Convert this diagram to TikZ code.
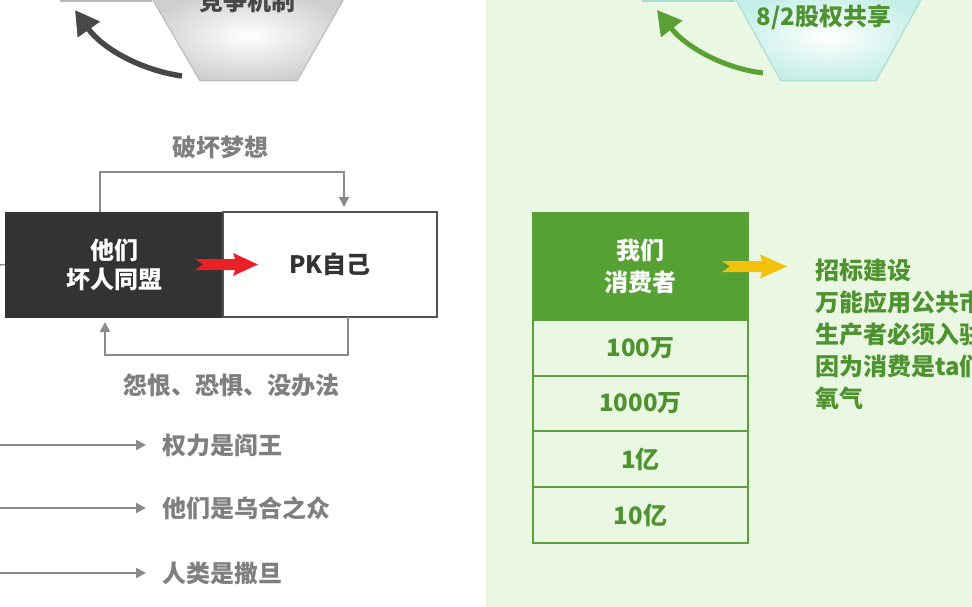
\documentclass[tikz,border=0pt]{standalone}
\usepackage{fontspec}
\setmainfont{Noto Sans CJK SC}
\usetikzlibrary{arrows.meta,calc}
\definecolor{boxdark}{HTML}{333333}
\definecolor{linegray}{HTML}{8A8A8A}
\definecolor{txtgray}{HTML}{7F7F7F}
\definecolor{hexedge}{HTML}{B8B8B8}
\definecolor{hexout}{HTML}{CFCFCF}
\definecolor{curvedark}{HTML}{484848}
\definecolor{gfill}{HTML}{56A133}
\definecolor{gedge}{HTML}{5F9E3F}
\definecolor{gtxt}{HTML}{4E9330}
\definecolor{bggreen}{HTML}{EAF7E2}
\definecolor{tealedge}{HTML}{A6DCD3}
\definecolor{tealout}{HTML}{C4EEE7}
\definecolor{arrowyellow}{HTML}{F4C20D}
\definecolor{arrowred}{HTML}{E82127}
\definecolor{curvegreen}{HTML}{5AA035}
\begin{document}
\begin{tikzpicture}[x=1pt,y=-1pt,
  big/.style={font=\fontsize{24}{30}\selectfont\bfseries},
  lbl/.style={big, text=txtgray, inner sep=1pt},
  fb/.style={draw=linegray, line width=2pt, -{Triangle[length=10pt,width=10pt]}},
  darkbox/.style={big, fill=boxdark, draw=boxdark, text=white, align=center, minimum width=218pt, minimum height=105pt, inner sep=0pt, outer sep=0pt},
  pkbox/.style={big, fill=white, draw=boxdark!85, line width=1.5pt, text=boxdark, minimum width=214pt, minimum height=105pt, inner sep=0pt, outer sep=0pt},
  ghead/.style={font=\fontsize{24}{32}\selectfont\bfseries, fill=gfill, draw=gedge, line width=2pt, text=white, align=center, minimum width=215pt, minimum height=107pt, inner sep=0pt, outer sep=0pt},
  tablerow/.style={big, draw=gedge, line width=2pt, text=gtxt, minimum width=215pt, minimum height=55.7pt, inner sep=0pt, outer sep=0pt, anchor=north},
  gline/.style={big, text=gtxt, inner sep=0pt, anchor=west},
]
\useasboundingbox (0,0) rectangle (972,607);
\clip (0,0) rectangle (972,607);
% backgrounds
\fill[white] (0,0) rectangle (486,607);
\fill[bggreen] (486,0) rectangle (972,607);

% ---------- left panel ----------
\draw[hexedge, line width=1.5pt] (60,1) -- (152,1);
\path[draw=hexedge, line width=1pt, inner color=white, outer color=hexout]
  (147,-10) -- (200,81) -- (297,81) -- (349,-10) -- cycle;
\node[big, text=curvedark] (compete) at (247,1) {竞争机制};
\coordinate (dcs) at (182,76);
\coordinate (dce) at (75,10);
\draw[curvedark, line width=5.5pt, -{Triangle[length=24pt,width=26pt]}]
  (dcs) .. controls (140,70) and (102,48) .. (dce);

\node[darkbox] (them) at (114,264.5) {他们\\[-1pt]坏人同盟};
\node[pkbox] (pk) at (330,264.5) {PK自己};
\coordinate (stub) at (-2,265);
\draw[linegray, line width=1.5pt] (stub) -- (them.west);
\fill[arrowred, shift={(them.east)}]
  (-28,-5.5) -- (12,-5.5) -- (10,-11.5) -- (35,0) -- (10,11.5) -- (12,5.5) -- (-28,5.5) -- (-20,0) -- cycle;

\node[lbl] (destroy) at (220,147) {破坏梦想};
\draw[fb, shorten >=5pt] ([xshift=-14pt]them.north) -- ++(0,-40) -| ([xshift=14pt]pk.north);
\node[lbl] (resent) at (231,385) {怨恨、恐惧、没办法};
\draw[fb, shorten >=5pt] ([xshift=18pt]pk.south) -- ++(0,38) -| ([xshift=-9pt]them.south);

\coordinate (s1) at (-2,445);
\coordinate (s2) at (-2,508);
\coordinate (s3) at (-2,573);
\node[lbl, anchor=west] (t1) at (161,445) {权力是阎王};
\node[lbl, anchor=west] (t2) at (161,508) {他们是乌合之众};
\node[lbl, anchor=west] (t3) at (161,573) {人类是撒旦};
\draw[fb, shorten >=15pt] (s1) -- (t1.west);
\draw[fb, shorten >=15pt] (s2) -- (t2.west);
\draw[fb, shorten >=15pt] (s3) -- (t3.west);

% ---------- right panel ----------
\draw[tealedge, line width=1.5pt] (642,1) -- (735,1);
\path[draw=tealedge, line width=1pt, inner color=white, outer color=tealout]
  (730.5,-10) -- (781,81) -- (876,81) -- (926.5,-10) -- cycle;
\node[big, text=gtxt] (share) at (824,17) {8/2股权共享};
\coordinate (gcs) at (763,73);
\coordinate (gce) at (657,10);
\draw[curvegreen, line width=5pt, -{Triangle[length=24pt,width=26pt]}]
  (gcs) .. controls (722,68) and (685,46) .. (gce);

\node[ghead] (we) at (640.5,266.5) {我们\\消费者};
\node[tablerow] (r1) at (we.south) {100万};
\node[tablerow] (r2) at (r1.south) {1000万};
\node[tablerow] (r3) at (r2.south) {1亿};
\node[tablerow] (r4) at (r3.south) {10亿};

\node[gline] (l1) at (815,270) {招标建设};
\node[gline] (l2) at (815,302) {万能应用公共市};
\node[gline] (l3) at (815,334) {生产者必须入驻};
\node[gline] (l4) at (815,366) {因为消费是ta们};
\node[gline] (l5) at (815,398) {氧气};
\fill[arrowyellow, shift={(we.east)}]
  (-26,-5.5) -- (14,-5.5) -- (12,-12) -- (39,0) -- (12,12) -- (14,5.5) -- (-26,5.5) -- (-18,0) -- cycle;
\end{tikzpicture}
\end{document}
